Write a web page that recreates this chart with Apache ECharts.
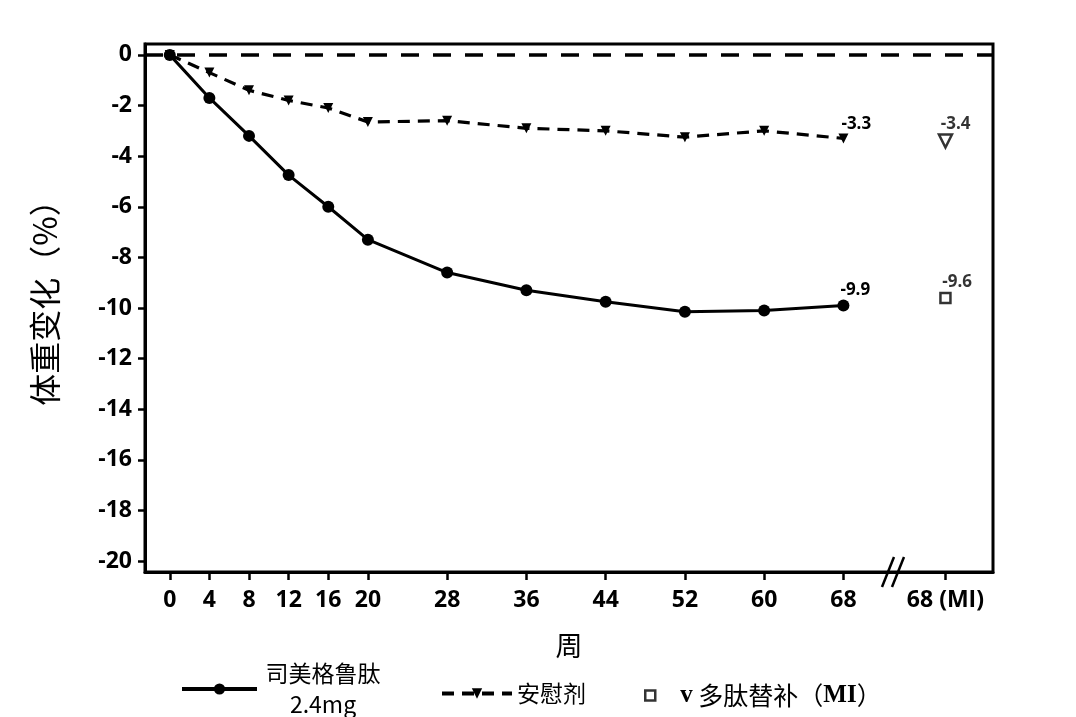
<!DOCTYPE html>
<html>
<head>
<meta charset="utf-8">
<script src="https://cdn.jsdelivr.net/npm/echarts@6/dist/echarts.min.js"></script>
<style>
  html, body { margin: 0; padding: 0; background: #fff; }
  #chart { width: 1076px; height: 717px; }
</style>
</head>
<body>
<div id="chart"></div>
<script>
// weeks and mean body-weight change (%)
const weeks = [0, 4, 8, 12, 16, 20, 28, 36, 44, 52, 60, 68]
const semaglutide = [0, -1.7, -3.2, -4.75, -6.0, -7.3, -8.6, -9.3, -9.75, -10.15, -10.1, -9.9]
const placebo = [0, -0.7, -1.4, -1.8, -2.1, -2.65, -2.6, -2.9, -3.0, -3.25, -3.0, -3.3]
// multiple imputation at week 68, drawn after the axis break
const miWeek = 78.3
const miSemaglutide = -9.6
const miPlacebo = -3.4
const xTickValues = [0, 4, 8, 12, 16, 20, 28, 36, 44, 52, 60, 68, miWeek]
const xTickLabels = ['0', '4', '8', '12', '16', '20', '28', '36', '44', '52', '60', '68', '68 (MI)']
const yTickValues = [0, -2, -4, -6, -8, -10, -12, -14, -16, -18, -20]

const NAME_SEMA = '司美格鲁肽'
const NAME_PLA = '安慰剂'
const NAME_MI = '多肽替补（MI）'

const numFont = '"Open Sans", "Noto Sans CJK SC", sans-serif'
const cjkFont = '"Noto Sans CJK SC", "Open Sans", sans-serif'
const serifFont = '"Liberation Serif", "DejaVu Serif", serif'

const chart = echarts.init(document.getElementById('chart'))

const endLabel = {
  show: true,
  position: [3, -1],
  align: 'left',
  verticalAlign: 'bottom',
  color: '#000',
  fontSize: 17,
  fontWeight: 'bold',
  fontFamily: numFont,
  formatter: p => p.value[1].toFixed(1)
}

function lineData(values) {
  return weeks.map((w, i) => {
    if (i === weeks.length - 1) return { value: [w, values[i]], label: endLabel }
    return [w, values[i]]
  })
}

chart.setOption({
  animation: false,
  backgroundColor: '#fff',
  grid: {
    left: 145,
    right: 83,
    top: 44,
    bottom: 145,
    show: true,
    borderColor: '#000',
    borderWidth: 3,
    outerBoundsMode: 'none'
  },
  xAxis: {
    type: 'value',
    min: -2.5,
    max: 83.1,
    name: '周',
    nameLocation: 'middle',
    nameGap: 60,
    nameTextStyle: { color: '#000', fontSize: 27, fontFamily: cjkFont },
    splitLine: { show: false },
    axisLine: { show: true, onZero: false, lineStyle: { color: '#000', width: 3 } },
    axisTick: {
      show: true, length: 8, lineStyle: { color: '#000', width: 2.5 },
      customValues: xTickValues
    },
    axisLabel: {
      color: '#000', fontSize: 23, fontWeight: 'bold', fontFamily: numFont, margin: 17,
      customValues: xTickValues,
      formatter: v => xTickLabels[xTickValues.indexOf(v)]
    }
  },
  yAxis: {
    type: 'value',
    min: -20.43,
    max: 0.43,
    name: '体重变化（%）',
    nameLocation: 'middle',
    nameRotate: 90,
    nameGap: 84,
    nameTextStyle: { color: '#000', fontSize: 32, fontFamily: cjkFont, padding: [0, 0, 0, 26] },
    splitLine: { show: false },
    axisLine: { show: true, onZero: false, lineStyle: { color: '#000', width: 3 } },
    axisTick: {
      show: true, length: 7, lineStyle: { color: '#000', width: 2.5 },
      customValues: yTickValues
    },
    axisLabel: {
      color: '#000', fontSize: 23, fontWeight: 'bold', fontFamily: numFont, margin: 13,
      customValues: yTickValues
    }
  },
  legend: [
    {
      data: [NAME_SEMA],
      left: 175,
      top: 657,
      itemWidth: 75,
      itemHeight: 14,
      itemGap: 0,
      lineStyle: { width: 4 },
      textStyle: {
        color: '#000', fontSize: 23, fontFamily: cjkFont,
        rich: {
          c: { width: 122, align: 'center', fontSize: 23, lineHeight: 31, fontFamily: cjkFont, color: '#000' }
        }
      },
      formatter: () => '{c|司美格鲁肽}\n{c|2.4mg}'
    },
    {
      data: [NAME_PLA],
      left: 435,
      top: 677,
      itemWidth: 70,
      itemHeight: 13,
      lineStyle: { width: 4 },
      textStyle: { color: '#000', fontSize: 23, fontFamily: cjkFont }
    },
    {
      data: [NAME_MI],
      left: 639,
      top: 678,
      itemWidth: 10,
      itemHeight: 10,
      itemStyle: { borderWidth: 2.5 },
      textStyle: {
        color: '#000', fontSize: 25, fontFamily: cjkFont, padding: [0, 0, 0, 20],
        rich: {
          s: { fontFamily: serifFont, fontWeight: 'bold', fontSize: 25, color: '#000' }
        }
      },
      formatter: () => '{s|v} 多肽替补（{s|MI}）'
    }
  ],
  series: [
    {
      name: NAME_SEMA,
      type: 'line',
      data: lineData(semaglutide),
      symbol: 'circle',
      symbolSize: 12,
      lineStyle: { color: '#000', width: 3 },
      itemStyle: { color: '#000' },
      z: 3
    },
    {
      name: NAME_PLA,
      type: 'line',
      data: lineData(placebo),
      symbol: 'triangle',
      symbolRotate: 180,
      symbolSize: 10,
      lineStyle: { color: '#000', width: 3.2, type: [12, 8] },
      itemStyle: { color: '#000' },
      z: 2,
      markLine: {
        silent: true,
        symbol: 'none',
        label: { show: false },
        lineStyle: { color: '#000', width: 3.5, type: [18, 14] },
        data: [{ yAxis: 0 }]
      }
    },
    {
      name: NAME_MI,
      type: 'scatter',
      symbol: 'rect',
      symbolSize: 10,
      itemStyle: { color: '#fff', borderColor: '#000', borderWidth: 2.5 },
      label: endLabel,
      data: [
        { value: [miWeek, miSemaglutide] },
        { value: [miWeek, miPlacebo], symbol: 'triangle', symbolRotate: 180, symbolSize: 13 }
      ]
    }
  ]
})

// axis break marks between week 68 and the MI column
const bx = chart.convertToPixel({ xAxisIndex: 0 }, 72.6)
const by = chart.convertToPixel({ yAxisIndex: 0 }, -20.43)
chart.setOption({
  graphic: [
    { type: 'line', shape: { x1: bx - 7, y1: by + 15, x2: bx + 5, y2: by - 15 }, style: { stroke: '#000', lineWidth: 2.5 }, z: 100 },
    { type: 'line', shape: { x1: bx + 3, y1: by + 15, x2: bx + 15, y2: by - 15 }, style: { stroke: '#000', lineWidth: 2.5 }, z: 100 }
  ]
})
</script>
</body>
</html>
